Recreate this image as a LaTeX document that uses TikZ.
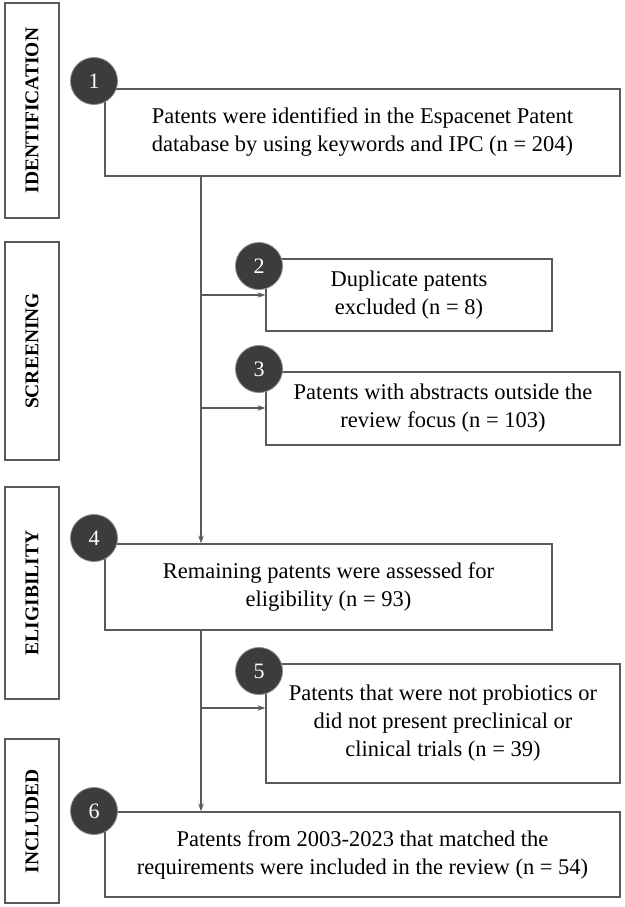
\documentclass[tikz,border=0pt]{standalone}
\usepackage{fontspec}
\setmainfont{Liberation Serif}
\usetikzlibrary{arrows.meta}
\definecolor{linegray}{HTML}{5A5A5A}
\definecolor{circfill}{HTML}{3C3C3C}
\definecolor{circline}{HTML}{8A8A8A}
\begin{document}
\begin{tikzpicture}[x=1pt,y=-1pt,
  box/.style={draw=linegray, line width=1.2pt, fill=white, rectangle, inner sep=0pt, align=center,
    font=\fontsize{22.5}{28}\selectfont},
  side/.style={draw=linegray, line width=1.2pt, rectangle, inner sep=0pt, minimum width=54pt},
  sidetext/.style={rotate=90, inner sep=0pt, font=\fontsize{19.5}{22}\selectfont\bfseries},
  num/.style={circle, draw=circline, line width=0.8pt, fill=circfill, minimum size=47pt, inner sep=0pt,
    text=white, font=\fontsize{22}{22}\selectfont},
  arr/.style={draw=linegray, line width=1.2pt, -{Stealth[length=8pt,width=5.5pt]}}]
\useasboundingbox (0,0) rectangle (624,907);
% side labels
\node[side, minimum height=215pt] (L1) at (32,110.5) {};
\node[sidetext] (L1t) at (L1) {IDENTIFICATION};
\node[side, minimum height=218pt] (L2) at (32,351) {};
\node[sidetext] (L2t) at (L2) {SCREENING};
\node[side, minimum height=212pt] (L3) at (32,593) {};
\node[sidetext] (L3t) at (L3) {ELIGIBILITY};
\node[side, minimum height=164pt] (L4) at (32,821) {};
\node[sidetext] (L4t) at (L4) {INCLUDED};
% boxes
\node[box, minimum width=515pt, minimum height=87pt] (b1) at (362.5,132.5)
  {Patents were identified in the Espacenet Patent\\database by using keywords and IPC (n = 204)};
\node[box, minimum width=286pt, minimum height=72pt] (b2) at (409,295)
  {Duplicate patents\\excluded (n = 8)};
\node[box, minimum width=354pt, minimum height=73pt] (b3) at (443,408.5)
  {Patents with abstracts outside the\\review focus (n = 103)};
\node[box, minimum width=447pt, minimum height=86pt] (b4) at (328.5,587)
  {Remaining patents were assessed for\\eligibility (n = 93)};
\node[box, minimum width=354pt, minimum height=119pt] (b5) at (443,723.5)
  {Patents that were not probiotics or\\did not present preclinical or\\clinical trials (n = 39)};
\node[box, minimum width=515pt, minimum height=85pt] (b6) at (362.5,854.5)
  {Patents from 2003-2023 that matched the\\requirements were included in the review (n = 54)};
% connectors
\coordinate (s) at (201,0);
\coordinate (y2) at (0,295);
\coordinate (y3) at (0,408);
\coordinate (y5) at (0,708);
\draw[arr] (b1.south -| s) -- (b4.north -| s);
\draw[arr] (b4.south -| s) -- (b6.north -| s);
\draw[arr] (s |- y2) -- (b2.west |- y2);
\draw[arr] (s |- y3) -- (b3.west |- y3);
\draw[arr] (s |- y5) -- (b5.west |- y5);
% numbered circles
\node[num] (c1) at (94,81) {1};
\node[num] (c2) at (259,266) {2};
\node[num] (c3) at (259,369) {3};
\node[num] (c4) at (94,538) {4};
\node[num] (c5) at (259,671) {5};
\node[num] (c6) at (94,811) {6};
\end{tikzpicture}
\end{document}
